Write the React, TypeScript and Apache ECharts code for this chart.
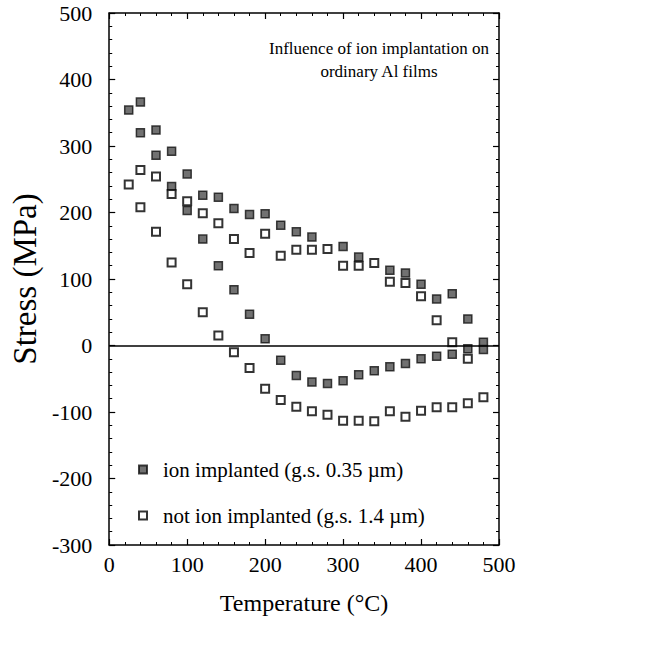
import React, { useEffect, useRef } from "react";
import * as echarts from "echarts";

// Temperatures (°C) and stresses (MPa)
const implantedT = [25, 40, 40, 60, 60, 80, 80, 100, 100, 120, 120, 140, 140, 160, 160, 180, 180, 200, 200, 220, 220, 240, 240, 260, 260, 280, 300, 300, 320, 320, 340, 360, 360, 380, 380, 400, 400, 420, 420, 440, 440, 460, 460, 480, 480];
const implantedS = [354, 366, 320, 324, 286, 292, 239, 258, 203, 226, 160, 223, 120, 206, 84, 197, 47, 198, 10, 181, -22, 171, -45, 163, -55, -57, 149, -53, 133, -44, -38, 113, -32, 109, -27, 92, -20, 70, -16, 78, -13, 40, -5, 5, -6];

const notImplantedT = [25, 40, 40, 60, 60, 80, 80, 100, 100, 120, 120, 140, 140, 160, 160, 180, 180, 200, 200, 220, 220, 240, 240, 260, 260, 280, 280, 300, 300, 320, 320, 340, 340, 360, 360, 380, 380, 400, 400, 420, 420, 440, 440, 460, 460, 480];
const notImplantedS = [242, 264, 208, 254, 171, 228, 125, 217, 92, 199, 50, 184, 15, 160, -10, 139, -34, 168, -65, 135, -82, 144, -92, 144, -99, 145, -104, 120, -113, 120, -113, 124, -114, 96, -99, 94, -107, 74, -98, 38, -93, 5, -93, -20, -87, -78];

const seriesNames = ["ion implanted (g.s. 0.35 \u00b5m)", "not ion implanted (g.s. 1.4 \u00b5m)"];
const titleLines = ["Influence of ion implantation on", "ordinary Al films"];

const FONT = "'Liberation Serif', 'DejaVu Serif', serif";

export default function App() {
  const ref = useRef<HTMLDivElement>(null);
  useEffect(() => {
    document.body.style.margin = "0";
    if (!ref.current) return;
    const chart = echarts.init(ref.current, undefined, { renderer: "svg" });
    const pair = (t: number[], s: number[]) => t.map((v, i) => [v, s[i]]);
    const axisCommon = {
      type: "value" as const,
      axisLine: { show: true, onZero: false, lineStyle: { color: "#000", width: 1.5 } },
      axisTick: { show: true, inside: true, length: 6, lineStyle: { color: "#000", width: 1.2 } },
      minorTick: { show: true, splitNumber: 5, length: 3, lineStyle: { color: "#000", width: 1 } },
      splitLine: { show: false },
    };
    chart.setOption({
      animation: false,
      backgroundColor: "#fff",
      grid: { left: 101, right: 148, top: 13, bottom: 104, containLabel: false },
      xAxis: [
        {
          ...axisCommon,
          min: 0, max: 500, interval: 100,
          position: "bottom",
          axisLabel: { color: "#000", fontFamily: FONT, fontSize: 22, margin: 8 },
          name: "Temperature (\u00b0C)",
          nameLocation: "middle",
          nameGap: 46,
          nameTextStyle: { color: "#000", fontFamily: FONT, fontSize: 24 },
        },
        {
          ...axisCommon,
          min: 0, max: 500, interval: 100,
          position: "top",
          axisLabel: { show: false },
        },
      ],
      yAxis: [
        {
          ...axisCommon,
          min: -300, max: 500, interval: 100,
          position: "left",
          axisLabel: { color: "#000", fontFamily: FONT, fontSize: 22, margin: 17 },
          name: "Stress (MPa)",
          nameLocation: "middle",
          nameGap: 61,
          nameTextStyle: { color: "#000", fontFamily: FONT, fontSize: 33 },
        },
        {
          ...axisCommon,
          min: -300, max: 500, interval: 100,
          position: "right",
          axisLabel: { show: false },
        },
      ],
      legend: {
        orient: "vertical",
        left: 133,
        top: 454,
        itemWidth: 8,
        itemHeight: 8,
        itemGap: 25,
        icon: "rect",
        textStyle: { color: "#000", fontFamily: FONT, fontSize: 21, padding: [0, 0, 0, 11] },
        data: seriesNames,
      },
      graphic: [
        {
          type: "text",
          x: 379,
          y: 37,
          style: {
            text: titleLines.join("\n"),
            font: `17px ${FONT}`,
            fill: "#000",
            textAlign: "center",
            lineHeight: 23,
          },
        },
      ],
      series: [
        {
          name: seriesNames[0],
          type: "scatter",
          symbol: "rect",
          symbolSize: 8,
          itemStyle: { color: "#4d4d4d", borderColor: "#111", borderWidth: 1.5 },
          data: pair(implantedT, implantedS),
          z: 3,
          markLine: {
            silent: true,
            symbol: ["none", "none"],
            label: { show: false },
            lineStyle: { color: "#000", type: "solid", width: 1.5 },
            data: [{ yAxis: 0 }],
          },
        },
        {
          name: seriesNames[1],
          type: "scatter",
          symbol: "rect",
          symbolSize: 8,
          itemStyle: { color: "#fff", borderColor: "#000", borderWidth: 2 },
          data: pair(notImplantedT, notImplantedS),
          z: 4,
        },
      ],
    });
    return () => chart.dispose();
  }, []);
  return <div ref={ref} style={{ width: 647, height: 649 }} />;
}
